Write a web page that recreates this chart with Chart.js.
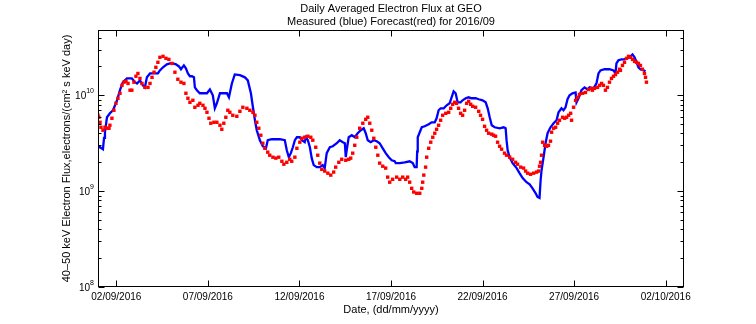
<!DOCTYPE html>
<html>
<head>
<meta charset="utf-8">
<script src="https://cdn.jsdelivr.net/npm/chart.js@4"></script>
<style>
  html, body { margin: 0; padding: 0; background: #fff; }
  #wrap { width: 756px; height: 324px; }
</style>
</head>
<body>
<div id="wrap"><canvas id="fluxChart" width="756" height="324"></canvas></div>
<script>
// day of month (September 2016, fractional) and flux in units of 1e9 electrons/(cm2 s keV day)
const measDays = [1.00,1.11,1.27,1.33,1.38,1.49,1.65,1.82,2.04,2.20,2.36,2.58,2.85,3.02,3.13,3.29,3.45,3.56,3.67,3.84,4.11,4.27,4.38,4.55,4.76,4.93,5.09,5.26,5.42,5.53,5.69,5.80,5.91,6.02,6.13,6.24,6.29,6.40,6.56,6.73,6.95,7.11,7.27,7.38,7.49,7.66,7.87,8.04,8.15,8.31,8.47,8.75,9.02,9.18,9.35,9.46,9.57,9.67,9.84,10.00,10.17,10.27,10.49,10.93,11.20,11.31,11.42,11.53,11.64,11.75,11.86,12.02,12.13,12.29,12.35,12.46,12.57,12.67,12.78,12.95,13.11,13.27,13.38,13.49,13.66,13.82,14.04,14.20,14.37,14.48,14.53,14.58,14.69,14.86,15.02,15.18,15.35,15.51,15.62,15.73,15.89,16.06,16.22,16.38,16.55,16.71,16.88,17.04,17.20,17.26,17.48,17.75,18.02,18.19,18.29,18.40,18.43,18.46,18.57,18.68,18.84,19.06,19.22,19.39,19.49,19.60,19.71,19.88,20.04,20.20,20.31,20.42,20.53,20.64,20.80,20.91,21.08,21.24,21.40,21.62,21.79,22.00,22.17,22.28,22.39,22.50,22.66,22.93,23.15,23.26,23.31,23.37,23.48,23.64,23.86,24.02,24.19,24.40,24.57,24.73,24.90,25.00,25.11,25.17,25.22,25.33,25.44,25.55,25.71,25.88,26.04,26.15,26.31,26.42,26.53,26.64,26.75,26.91,27.08,27.13,27.24,27.40,27.57,27.73,27.84,28.06,28.22,28.33,28.44,28.66,28.93,29.15,29.26,29.31,29.42,29.59,29.75,29.86,30.02,30.19,30.30,30.41,30.51,30.62,30.79,30.90];
const measFlux = [2.87,2.87,2.74,3.60,4.12,5.90,6.49,6.98,8.87,11.3,13.7,15.0,15.0,13.7,13.3,14.3,12.7,12.1,15.4,16.9,16.9,16.9,18.2,19.6,21.0,21.5,21.5,21.0,20.0,18.7,20.5,19.1,16.9,15.8,15.8,15.4,12.1,11.3,10.5,10.5,10.5,11.5,10.0,7.32,8.25,10.5,10.5,10.5,9.53,13.3,16.5,16.2,15.4,14.3,10.5,7.50,5.49,4.32,3.40,2.94,2.80,3.40,3.48,3.48,3.40,2.67,2.26,2.49,2.87,3.40,3.65,3.65,3.40,3.24,3.65,3.40,2.87,2.21,1.87,1.78,1.78,1.87,1.74,2.49,2.87,2.94,3.16,3.40,3.24,3.16,2.26,2.67,3.65,3.83,3.65,4.02,4.32,4.53,4.02,3.40,3.24,3.40,3.32,3.16,2.80,2.49,2.26,2.10,2.05,1.96,1.96,2.00,2.05,1.96,1.78,1.78,2.60,3.65,4.12,4.64,4.75,4.99,5.23,5.23,5.76,6.98,7.32,7.32,7.87,8.25,9.53,11.0,10.5,8.45,8.45,8.87,9.31,9.53,9.31,9.31,9.09,8.87,8.45,7.32,5.90,4.87,4.64,4.53,4.64,4.53,3.40,2.67,2.26,1.96,1.74,1.54,1.37,1.24,1.18,1.07,0.95,0.87,0.85,1.30,1.65,2.26,3.16,4.02,4.64,5.11,5.49,6.65,7.32,6.98,7.50,9.09,10.0,10.5,10.7,8.45,9.31,11.3,12.1,11.5,12.1,11.8,13.3,16.9,18.2,18.7,18.7,18.2,16.9,21.5,23.2,23.7,23.7,24.3,24.9,26.7,24.9,22.1,19.6,18.7,18.2,17.8];

const fcstDays = [1.00,1.05,1.11,1.16,1.27,1.38,1.49,1.60,1.65,1.76,1.87,1.98,2.09,2.20,2.31,2.42,2.53,2.64,2.75,2.85,2.96,3.07,3.18,3.29,3.40,3.56,3.73,3.84,3.95,4.06,4.16,4.27,4.38,4.55,4.71,4.87,5.04,5.20,5.36,5.53,5.69,5.80,5.91,6.02,6.18,6.29,6.46,6.56,6.73,6.84,6.95,7.06,7.16,7.33,7.49,7.66,7.76,7.87,7.98,8.09,8.20,8.36,8.58,8.75,8.91,9.13,9.29,9.46,9.57,9.67,9.78,9.89,10.00,10.11,10.27,10.38,10.55,10.71,10.87,11.04,11.15,11.31,11.47,11.58,11.75,11.86,12.02,12.13,12.29,12.46,12.62,12.73,12.89,13.00,13.11,13.22,13.38,13.55,13.71,13.87,13.98,14.15,14.31,14.53,14.69,14.80,14.91,15.02,15.13,15.29,15.46,15.62,15.73,15.84,15.95,16.06,16.17,16.28,16.38,16.55,16.71,16.82,16.93,17.09,17.31,17.48,17.64,17.80,17.91,18.02,18.13,18.24,18.40,18.57,18.68,18.73,18.79,18.89,18.95,19.06,19.17,19.28,19.39,19.49,19.60,19.71,19.82,19.99,20.15,20.26,20.37,20.48,20.58,20.69,20.80,20.91,21.02,21.13,21.24,21.35,21.46,21.62,21.79,21.89,22.00,22.11,22.22,22.33,22.50,22.60,22.71,22.82,22.93,23.04,23.20,23.31,23.48,23.64,23.80,23.91,24.08,24.24,24.35,24.46,24.62,24.79,24.95,25.06,25.11,25.17,25.22,25.28,25.39,25.50,25.60,25.71,25.77,25.88,25.99,26.10,26.20,26.37,26.48,26.59,26.70,26.81,26.86,26.97,27.08,27.19,27.29,27.46,27.62,27.79,27.95,28.00,28.11,28.28,28.39,28.50,28.60,28.71,28.82,28.93,29.04,29.15,29.26,29.37,29.48,29.53,29.64,29.75,29.86,29.97,30.08,30.19,30.30,30.41,30.51,30.62,30.73,30.84,30.90,30.95];
const fcstFlux = [6.19,5.90,5.23,4.64,4.32,4.64,4.53,4.53,4.87,5.76,6.98,8.25,9.31,10.5,12.7,13.7,14.0,13.3,11.3,11.3,13.7,15.8,16.9,15.0,13.3,12.1,12.1,13.3,15.4,17.4,19.6,22.1,24.9,25.5,24.3,23.7,21.5,17.4,14.7,13.7,13.3,10.5,9.31,8.45,8.87,7.50,7.87,8.25,7.87,7.32,6.65,5.76,5.11,5.23,5.23,4.87,4.42,5.11,5.90,6.98,6.65,6.19,6.04,6.81,7.50,7.32,6.98,6.65,6.19,5.23,4.53,3.83,3.16,2.80,2.55,2.37,2.26,2.21,2.26,2.05,1.91,2.00,2.15,2.05,2.26,2.80,3.24,3.56,3.65,3.74,3.65,3.40,2.87,2.37,1.96,1.69,1.62,1.54,1.47,1.58,1.78,2.00,2.15,2.10,2.15,2.21,2.49,3.01,3.65,4.53,5.11,5.62,5.90,5.11,4.32,3.56,2.87,2.37,1.96,1.82,1.74,1.40,1.24,1.33,1.40,1.33,1.40,1.33,1.40,1.24,1.07,0.98,0.95,0.95,1.07,1.24,1.47,1.78,2.26,2.80,3.24,3.65,4.02,4.42,4.87,5.49,6.19,6.49,6.65,7.32,8.06,8.45,8.25,7.32,6.49,6.19,6.98,8.25,8.66,8.06,7.68,7.50,6.81,6.19,5.62,4.75,4.32,4.02,3.93,3.83,3.74,3.24,2.94,2.74,2.49,2.37,2.26,2.15,2.00,1.91,1.78,1.74,1.62,1.54,1.50,1.54,1.58,1.62,1.82,2.00,2.37,3.24,3.01,2.94,3.01,3.32,4.12,4.53,4.64,5.11,5.49,5.90,5.76,5.90,6.19,6.49,5.49,7.50,8.87,9.53,10.2,10.5,10.7,11.5,11.8,11.3,11.8,12.1,12.7,13.3,12.7,11.3,12.1,13.7,15.0,15.8,16.5,17.4,18.7,18.2,20.5,22.1,24.3,25.5,24.9,23.7,22.6,22.1,21.5,20.5,18.7,16.9,15.4,13.7];

const xTickDays = [2, 7, 12, 17, 22, 27, 32];
const xTickLabels = ['02/09/2016', '07/09/2016', '12/09/2016', '17/09/2016', '22/09/2016', '27/09/2016', '02/10/2016'];
const yDecades = [8, 9, 10];
const yMin = 1e8;
const yMax = 4.8e10;

const FONT = '"Liberation Sans", Arial, Helvetica, sans-serif';

// log ticks 1..9 per decade, labels only on powers of ten
const yTickValues = [];
yDecades.forEach(p => {
    for (let m = 1; m <= 9; m++) {
        const v = m * Math.pow(10, p);
        if (v <= yMax) yTickValues.push(v);
    }
});

const toPoints = (days, flux) => days.map((d, i) => ({ x: d, y: flux[i] * 1e9 }));

// MATLAB-like box with inward ticks and 10^n labels
const matlabAxes = {
    id: 'matlabAxes',
    afterDraw(chart) {
        const { ctx, chartArea: a, scales: { x, y } } = chart;
        const L = Math.round(a.left) + 0.5, R = Math.round(a.right) - 0.5;
        const T = Math.round(a.top) + 0.5, B = Math.round(a.bottom) - 0.5;
        ctx.save();
        ctx.strokeStyle = '#000';
        ctx.lineWidth = 1;
        ctx.strokeRect(L, T, R - L, B - T);

        ctx.beginPath();
        xTickDays.forEach(d => {
            const px = Math.round(x.getPixelForValue(d)) + 0.5;
            ctx.moveTo(px, B); ctx.lineTo(px, B - 6);
            ctx.moveTo(px, T); ctx.lineTo(px, T + 6);
        });
        yTickValues.forEach(v => {
            const py = Math.round(y.getPixelForValue(v)) + 0.5;
            const major = yDecades.some(p => Math.abs(v - Math.pow(10, p)) < 1);
            const len = major ? 6 : 3;
            ctx.moveTo(L, py); ctx.lineTo(L + len, py);
            ctx.moveTo(R, py); ctx.lineTo(R - len, py);
        });
        ctx.stroke();

        ctx.fillStyle = '#000';
        ctx.textBaseline = 'middle';
        ctx.textAlign = 'left';
        yDecades.forEach(p => {
            const py = y.getPixelForValue(Math.pow(10, p));
            const exp = String(p);
            ctx.font = '7px ' + FONT;
            const ew = ctx.measureText(exp).width;
            ctx.font = '10px ' + FONT;
            const bw = ctx.measureText('10').width;
            const right = a.left - 4;
            ctx.fillText('10', right - ew - bw, py + 1);
            ctx.font = '7px ' + FONT;
            ctx.fillText(exp, right - ew, py - 4);
        });
        ctx.restore();
    }
};

new Chart(document.getElementById('fluxChart').getContext('2d'), {
    type: 'line',
    data: {
        datasets: [{
            label: 'Measured',
            data: toPoints(measDays, measFlux),
            borderColor: '#0000ff',
            borderWidth: 2.3,
            pointRadius: 0,
            tension: 0,
            fill: false,
            order: 2
        }, {
            label: 'Forecast',
            data: toPoints(fcstDays, fcstFlux),
            showLine: false,
            pointStyle: 'rect',
            pointRadius: 2.4,
            pointBorderWidth: 0,
            pointBackgroundColor: '#ff0000',
            borderColor: '#ff0000',
            order: 1
        }]
    },
    options: {
        responsive: false,
        animation: false,
        layout: { padding: { left: 0, right: 72, top: 0, bottom: 0 } },
        plugins: {
            legend: { display: false },
            tooltip: { enabled: false },
            title: {
                display: true,
                fullSize: false,
                text: ['Daily Averaged Electron Flux at GEO', 'Measured (blue) Forecast(red) for 2016/09'],
                color: '#000',
                font: { family: FONT, size: 11, weight: 'normal' },
                padding: { top: 2, bottom: 1.6 }
            }
        },
        scales: {
            x: {
                type: 'linear',
                min: 1,
                max: 33,
                afterBuildTicks: s => { s.ticks = xTickDays.map(v => ({ value: v })); },
                afterFit: s => { s.height = 37; s.paddingLeft = 0; s.paddingRight = 0; },
                grid: { display: false, drawTicks: false },
                border: { display: false },
                ticks: {
                    autoSkip: false,
                    maxRotation: 0,
                    padding: 4,
                    color: '#000',
                    font: { family: FONT, size: 10 },
                    callback: v => xTickLabels[xTickDays.indexOf(v)] || ''
                },
                title: {
                    display: true,
                    text: 'Date, (dd/mm/yyyy)',
                    color: '#000',
                    font: { family: FONT, size: 11 },
                    padding: { top: 0, bottom: 7 }
                }
            },
            y: {
                type: 'logarithmic',
                min: yMin,
                max: yMax,
                afterBuildTicks: s => { s.ticks = yTickValues.map(v => ({ value: v })); },
                afterFit: s => { s.width = 98; s.paddingTop = 0; s.paddingBottom = 0; },
                grid: { display: false, drawTicks: false },
                border: { display: false },
                ticks: { display: false },
                title: {
                    display: true,
                    text: '40\u201350 keV Electron Flux,electrons/(cm\u00b2 s keV day)',
                    color: '#000',
                    font: { family: FONT, size: 11 },
                    padding: { top: 60, bottom: 0 }
                }
            }
        }
    },
    plugins: [matlabAxes]
});
</script>
</body>
</html>
